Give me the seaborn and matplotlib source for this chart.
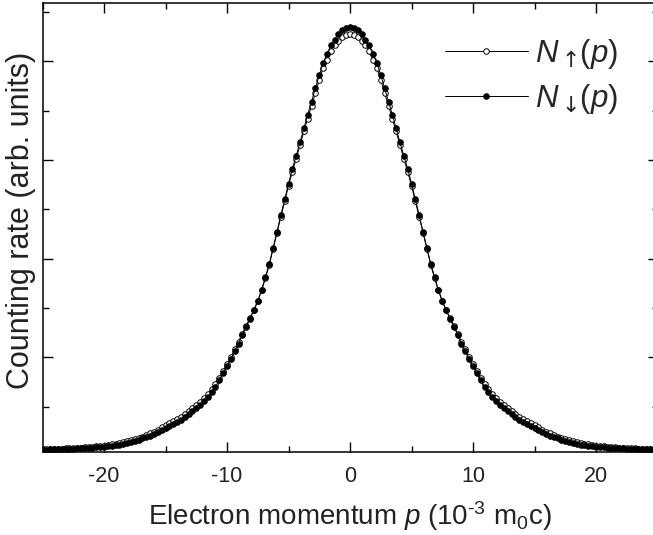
import numpy as np
import pandas as pd
import matplotlib
matplotlib.use("Agg")
import matplotlib.pyplot as plt
from matplotlib.ticker import MultipleLocator, NullFormatter
import seaborn as sns

# electron momentum channels (10^-3 m0c)
momentum = [
    -25.00, -24.69, -24.38, -24.06, -23.75, -23.44, -23.13, -22.81, -22.50, -22.19, -21.88, -21.56, -21.25, -20.94, -20.63, -20.31,
    -20.00, -19.69, -19.38, -19.06, -18.75, -18.44, -18.13, -17.81, -17.50, -17.19, -16.88, -16.56, -16.25, -15.94, -15.63, -15.31,
    -15.00, -14.69, -14.38, -14.06, -13.75, -13.44, -13.13, -12.81, -12.50, -12.19, -11.88, -11.56, -11.25, -10.94, -10.63, -10.31,
    -10.00, -9.69, -9.38, -9.06, -8.75, -8.44, -8.13, -7.81, -7.50, -7.19, -6.88, -6.56, -6.25, -5.94, -5.63, -5.31,
    -5.00, -4.69, -4.38, -4.06, -3.75, -3.44, -3.13, -2.81, -2.50, -2.19, -1.88, -1.56, -1.25, -0.94, -0.63, -0.31,
    0.00,
    0.31, 0.63, 0.94, 1.25, 1.56, 1.88, 2.19, 2.50, 2.81, 3.13, 3.44, 3.75, 4.06, 4.38, 4.69, 5.00,
    5.31, 5.63, 5.94, 6.25, 6.56, 6.88, 7.19, 7.50, 7.81, 8.13, 8.44, 8.75, 9.06, 9.38, 9.69, 10.00,
    10.31, 10.63, 10.94, 11.25, 11.56, 11.88, 12.19, 12.50, 12.81, 13.13, 13.44, 13.75, 14.06, 14.38, 14.69, 15.00,
    15.31, 15.63, 15.94, 16.25, 16.56, 16.88, 17.19, 17.50, 17.81, 18.13, 18.44, 18.75, 19.06, 19.38, 19.69, 20.00,
    20.31, 20.63, 20.94, 21.25, 21.56, 21.88, 22.19, 22.50, 22.81, 23.13, 23.44, 23.75, 24.06, 24.38, 24.69, 25.00,
]

# spin-up counting rate (open circles)
n_up = [
    0.069, 0.070, 0.071, 0.072, 0.074, 0.075, 0.077, 0.079, 0.081, 0.083, 0.086, 0.089, 0.091, 0.095, 0.098, 0.102,
    0.106, 0.111, 0.117, 0.124, 0.131, 0.140, 0.149, 0.158, 0.171, 0.183, 0.197, 0.212, 0.229, 0.247, 0.268, 0.290,
    0.310, 0.330, 0.350, 0.375, 0.400, 0.430, 0.460, 0.490, 0.520, 0.550, 0.590, 0.630, 0.680, 0.730, 0.795, 0.865,
    0.930, 1.000, 1.080, 1.160, 1.240, 1.320, 1.400, 1.480, 1.570, 1.680, 1.800, 1.940, 2.100, 2.260, 2.420, 2.580,
    2.740, 2.880, 3.010, 3.150, 3.290, 3.420, 3.550, 3.680, 3.810, 3.930, 4.010, 4.100, 4.160, 4.210, 4.250, 4.270,
    4.280,
    4.270, 4.250, 4.210, 4.160, 4.100, 4.010, 3.930, 3.810, 3.680, 3.550, 3.420, 3.290, 3.150, 3.010, 2.880, 2.740,
    2.580, 2.420, 2.260, 2.100, 1.940, 1.800, 1.680, 1.570, 1.480, 1.400, 1.320, 1.240, 1.160, 1.080, 1.000, 0.930,
    0.865, 0.795, 0.730, 0.680, 0.630, 0.590, 0.550, 0.520, 0.490, 0.460, 0.430, 0.400, 0.375, 0.350, 0.330, 0.310,
    0.290, 0.268, 0.247, 0.229, 0.212, 0.197, 0.183, 0.171, 0.158, 0.149, 0.140, 0.131, 0.124, 0.117, 0.111, 0.106,
    0.102, 0.098, 0.095, 0.091, 0.089, 0.086, 0.083, 0.081, 0.079, 0.077, 0.075, 0.074, 0.072, 0.071, 0.070, 0.069,
]

# spin-down counting rate (filled circles)
n_down = [
    0.065, 0.066, 0.067, 0.068, 0.069, 0.070, 0.072, 0.073, 0.075, 0.077, 0.079, 0.081, 0.083, 0.086, 0.089, 0.092,
    0.095, 0.099, 0.104, 0.110, 0.116, 0.124, 0.133, 0.143, 0.154, 0.166, 0.179, 0.192, 0.206, 0.222, 0.240, 0.260,
    0.280, 0.300, 0.320, 0.345, 0.370, 0.400, 0.430, 0.460, 0.490, 0.520, 0.560, 0.600, 0.650, 0.700, 0.770, 0.840,
    0.910, 0.980, 1.060, 1.140, 1.230, 1.310, 1.390, 1.480, 1.570, 1.680, 1.810, 1.950, 2.110, 2.270, 2.440, 2.600,
    2.760, 2.910, 3.040, 3.180, 3.320, 3.460, 3.590, 3.730, 3.860, 3.980, 4.070, 4.160, 4.220, 4.280, 4.320, 4.340,
    4.350,
    4.340, 4.320, 4.280, 4.220, 4.160, 4.070, 3.980, 3.860, 3.730, 3.590, 3.460, 3.320, 3.180, 3.040, 2.910, 2.760,
    2.600, 2.440, 2.270, 2.110, 1.950, 1.810, 1.680, 1.570, 1.480, 1.390, 1.310, 1.230, 1.140, 1.060, 0.980, 0.910,
    0.840, 0.770, 0.700, 0.650, 0.600, 0.560, 0.520, 0.490, 0.460, 0.430, 0.400, 0.370, 0.345, 0.320, 0.300, 0.280,
    0.260, 0.240, 0.222, 0.206, 0.192, 0.179, 0.166, 0.154, 0.143, 0.133, 0.124, 0.116, 0.110, 0.104, 0.099, 0.095,
    0.092, 0.089, 0.086, 0.083, 0.081, 0.079, 0.077, 0.075, 0.073, 0.072, 0.070, 0.069, 0.068, 0.067, 0.066, 0.065,
]

sns.set_style("ticks")
plt.rcParams['font.family'] = ['Liberation Sans', 'DejaVu Sans']
plt.rcParams['axes.unicode_minus'] = False
plt.rcParams['mathtext.fontset'] = 'custom'
plt.rcParams['mathtext.rm'] = 'Liberation Sans'
plt.rcParams['mathtext.it'] = 'Liberation Sans:italic'
plt.rcParams['mathtext.bf'] = 'Liberation Sans:bold'
plt.rcParams['mathtext.sf'] = 'DejaVu Sans'

df = pd.DataFrame({'p': momentum, 'up': n_up, 'down': n_down})

fig = plt.figure(figsize=(6.53, 5.35), dpi=100)
ax = fig.add_axes([0.0651, 0.155, 0.9418, 0.8393])

sns.lineplot(data=df, x='p', y='up', ax=ax, estimator=None, color='black', lw=0.7,
             marker='o', markersize=4, markerfacecolor='white', markeredgecolor='black',
             markeredgewidth=0.7, label=r'$N_{\mathsf{\uparrow}}\!(p)$')
sns.lineplot(data=df, x='p', y='down', ax=ax, estimator=None, color='black', lw=0.7,
             marker='o', markersize=4, markerfacecolor='black', markeredgecolor='black',
             markeredgewidth=0.7, label=r'$N_{\mathsf{\downarrow}}\!(p)$')

ax.set_xlim(-25, 25)
ax.set_ylim(0.04, 4.59)
ax.xaxis.set_major_locator(MultipleLocator(10))
ax.xaxis.set_minor_locator(MultipleLocator(5))
ax.yaxis.set_major_locator(MultipleLocator(1))
ax.yaxis.set_minor_locator(MultipleLocator(0.5))
ax.yaxis.set_major_formatter(NullFormatter())
ax.tick_params(which='both', direction='in', top=True, right=True, width=1, colors='black')
ax.tick_params(which='major', length=7)
ax.tick_params(which='minor', length=4)
ax.tick_params(axis='x', labelsize=15.5, pad=10, labelcolor='#222222')
for s in ax.spines.values():
    s.set_color('black')
    s.set_linewidth(1.1)

ax.set_xlabel('Electron momentum $p$ (10$^{\u20103}$ m$_0$c)', fontsize=20, color='#222222', labelpad=9)
ax.set_ylabel('Counting rate (arb. units)', fontsize=22, color='#222222')
ax.yaxis.set_label_coords(-0.011, 0.515)

ax.legend(loc='upper left', bbox_to_anchor=(0.654, 0.925), frameon=False, fontsize=22.5,
          handlelength=2.65, handletextpad=0.25, labelspacing=0.35, borderpad=0, borderaxespad=0)

fig.savefig('out.png', dpi=100)
